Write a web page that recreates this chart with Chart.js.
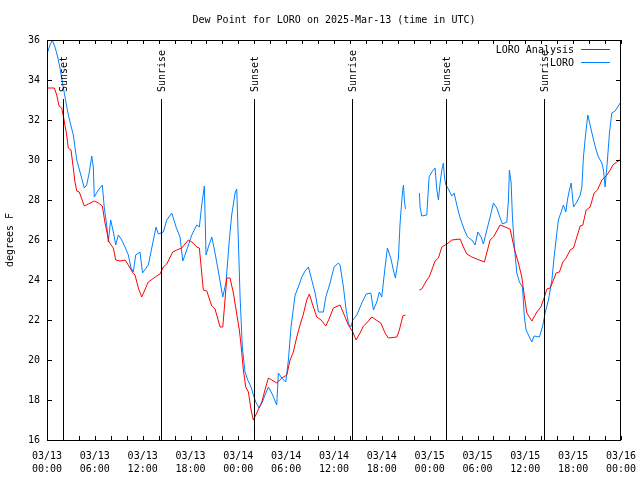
<!DOCTYPE html>
<html>
<head>
<meta charset="utf-8">
<script src="https://cdn.jsdelivr.net/npm/chart.js@4/dist/chart.umd.min.js"></script>
<style>
  html, body { margin: 0; padding: 0; background: #fff; }
  #wrap { width: 640px; height: 480px; }
</style>
</head>
<body>
<div id="wrap"><canvas id="dewCanvas"></canvas></div>
<script>
// hours since 2025-03-13 00:00 UTC, dew point in degrees F
const analysisHours = [0.0, 0.92, 1.22, 1.51, 1.84, 2.05, 2.47, 2.67, 3.01, 3.3, 3.51, 3.73, 4.05, 4.68, 5.18, 5.93, 6.44, 6.94, 7.28, 7.78,
    8.32, 8.62, 9.16, 9.79, 10.2, 10.7, 11.04, 11.46, 11.88, 12.71, 13.76, 14.18, 14.59, 15.02, 15.77, 16.27, 16.9, 17.73, 18.36, 18.78,
    19.11, 19.61, 20.04, 20.67, 21.08, 21.71, 22.05, 22.55, 22.96, 23.38, 23.8, 24.13, 24.34, 24.63, 24.93, 25.26, 25.6, 25.88, 26.31, 26.94,
    27.44, 27.77, 28.19, 28.82, 29.45, 30.08, 30.49, 30.9, 31.33, 31.74, 32.16, 32.58, 32.91, 33.29, 33.84, 34.38, 34.97, 35.38, 35.92, 36.76,
    37.39, 37.8, 38.36, 38.77, 39.27, 39.69, 40.11, 40.74, 41.28, 41.87, 42.41, 42.82, 43.88, 44.2, 44.63, 44.96, 45.8, 46.71, 47.01, 47.64,
    47.93, 48.27, 48.68, 49.1, 49.52, 50.15, 50.78, 51.82, 52.23, 52.66, 53.29, 53.91, 54.87, 55.58, 56.0, 56.84, 57.47, 58.09, 58.63, 59.13,
    59.56, 59.89, 60.19, 60.82, 61.44, 61.94, 62.36, 62.7, 63.11, 63.53, 63.86, 64.28, 64.71, 65.12, 65.62, 66.04, 66.46, 66.88, 67.21, 67.63,
    68.13, 68.63, 69.05, 69.6, 70.14, 70.64, 70.98, 71.48, 72.0];
const analysisDew = [33.6, 33.6, 33.25, 32.7, 32.6, 32.2, 31.25, 30.6, 30.5, 29.6, 28.9, 28.45, 28.4, 27.7, 27.8, 27.95, 27.85, 27.7, 26.85, 25.9,
    25.6, 25.0, 24.95, 25.0, 24.75, 24.4, 24.25, 23.6, 23.15, 23.9, 24.2, 24.3, 24.65, 24.8, 25.4, 25.5, 25.6, 26.0, 25.85, 25.65,
    25.6, 23.5, 23.45, 22.7, 22.55, 21.65, 21.65, 24.1, 24.1, 23.35, 22.3, 21.5, 20.75, 19.5, 18.65, 18.4, 17.5, 17.0, 17.35, 17.9,
    18.65, 19.1, 19.0, 18.85, 19.1, 19.25, 20.0, 20.4, 21.15, 21.75, 22.3, 23.0, 23.3, 22.8, 22.15, 22.0, 21.7, 22.05, 22.6, 22.75,
    22.15, 21.75, 21.4, 21.0, 21.35, 21.7, 21.85, 22.15, 22.0, 21.85, 21.35, 21.1, 21.15, 21.5, 22.2, 22.25, null, 23.5, 23.55, 24.0,
    24.15, 24.5, 24.95, 25.1, 25.65, 25.8, 26.0, 26.05, 25.65, 25.3, 25.15, 25.05, 24.9, 26.0, 26.15, 26.75, 26.65, 26.55, 25.55, 24.85,
    24.15, 23.15, 22.35, 21.95, 22.4, 22.65, 23.1, 23.55, 23.6, 24.0, 24.35, 24.4, 24.9, 25.1, 25.5, 25.6, 26.15, 26.7, 26.75, 27.5,
    27.65, 28.35, 28.5, 29.0, 29.2, 29.5, 29.75, 29.9, 30.05];

const obsHours = [0.0, 0.38, 0.66, 1.0, 1.34, 1.63, 1.92, 2.26, 2.6, 2.89, 3.3, 3.73, 4.14, 4.68, 4.98, 5.31, 5.61, 5.81, 5.93, 6.44,
    6.94, 7.19, 7.49, 7.69, 7.99, 8.32, 8.62, 8.95, 9.37, 9.79, 10.2, 10.54, 10.83, 11.13, 11.67, 11.98, 12.71, 13.14, 13.68, 13.96,
    14.59, 15.02, 15.65, 16.19, 16.69, 17.03, 17.53, 18.16, 18.78, 19.11, 19.41, 19.74, 19.95, 20.24, 20.67, 21.08, 21.62, 22.05, 22.46, 22.87,
    23.17, 23.59, 23.8, 23.96, 24.22, 24.5, 24.84, 25.18, 25.6, 25.88, 26.19, 26.6, 27.01, 27.35, 27.77, 28.19, 28.82, 29.02, 29.45, 29.95,
    30.28, 30.61, 31.12, 31.53, 31.96, 32.37, 32.79, 33.21, 33.63, 34.05, 34.67, 34.97, 35.51, 36.01, 36.55, 36.76, 37.18, 37.52, 37.8, 38.11,
    38.36, 38.86, 39.49, 40.03, 40.62, 40.95, 41.37, 41.69, 41.99, 42.41, 42.7, 43.12, 43.45, 43.7, 44.08, 44.29, 44.58, 44.71, 44.83, 44.96,
    45.8, 46.71, 46.8, 47.01, 47.64, 47.93, 48.27, 48.68, 48.9, 49.1, 49.31, 49.52, 49.72, 49.85, 50.03, 50.35, 50.78, 51.07, 51.4, 51.82,
    52.36, 52.74, 53.29, 53.7, 54.04, 54.45, 54.74, 55.17, 55.58, 56.0, 56.42, 56.84, 57.13, 57.68, 57.88, 58.0, 58.22, 58.38, 58.63, 58.93,
    59.26, 59.64, 59.89, 60.1, 60.51, 60.82, 61.1, 61.77, 62.2, 62.48, 62.9, 63.33, 63.61, 63.95, 64.15, 64.45, 64.78, 65.08, 65.28, 65.53,
    65.75, 66.04, 66.46, 66.88, 67.09, 67.29, 67.59, 67.84, 68.04, 68.47, 68.88, 69.17, 69.6, 69.8, 70.01, 70.14, 70.3, 70.55, 70.85, 71.27,
    71.9];
const obsDew = [35.3, 35.75, 36.0, 35.65, 35.15, 34.6, 33.9, 33.15, 32.4, 31.9, 31.25, 30.0, 29.4, 28.6, 28.75, 29.4, 30.2, 29.65, 28.15, 28.5,
    28.75, 27.6, 26.75, 25.9, 27.0, 26.4, 25.75, 26.25, 26.0, 25.65, 25.25, 24.6, 24.4, 25.25, 25.4, 24.35, 24.75, 25.6, 26.65, 26.3,
    26.4, 27.0, 27.35, 26.65, 26.15, 24.95, 25.5, 26.25, 26.75, 26.65, 27.75, 28.7, 25.25, 25.65, 26.15, 25.35, 24.15, 23.15, 23.9, 26.0,
    27.25, 28.35, 28.55, 26.5, 23.15, 20.65, 19.4, 19.0, 18.65, 18.25, 17.9, 17.6, 17.9, 18.25, 18.65, 18.35, 17.75, 19.35, 19.1, 18.9,
    20.0, 21.65, 23.25, 23.65, 24.15, 24.45, 24.65, 24.0, 23.35, 22.4, 22.4, 23.15, 23.85, 24.65, 24.85, 24.75, 23.65, 22.5, 21.85, 21.65,
    22.0, 22.25, 22.85, 23.3, 23.35, 22.5, 22.9, 23.4, 23.15, 24.65, 25.6, 25.1, 24.5, 24.1, 25.1, 26.85, 28.35, 28.75, 28.0, 27.55,
    null, 28.35, 27.65, 27.2, 27.25, 29.15, 29.4, 29.6, 28.5, 28.0, 28.85, 29.5, 29.85, 29.15, 28.75, 28.55, 28.2, 28.35, 27.75, 27.1,
    26.5, 26.15, 26.0, 25.75, 26.4, 26.15, 25.8, 26.5, 27.15, 27.85, 27.6, 27.1, 26.8, 26.9, 28.0, 29.5, 28.85, 27.15, 25.65, 24.35,
    23.9, 23.65, 22.1, 21.5, 21.15, 20.9, 21.2, 21.15, 21.75, 22.35, 23.0, 24.0, 25.15, 26.35, 27.0, 27.35, 27.75, 27.4, 28.0, 28.5,
    28.85, 27.65, 27.9, 28.25, 28.65, 30.15, 31.4, 32.25, 31.9, 31.15, 30.5, 30.15, 29.85, 29.5, 28.65, 29.25, 30.0, 31.35, 32.35, 32.45,
    32.85];

const sunHours = [2.0, 14.3, 26.0, 38.3, 50.05, 62.35];
const sunLabels = ["Sunset", "Sunrise", "Sunset", "Sunrise", "Sunset", "Sunrise"];

const yTicks = [16, 18, 20, 22, 24, 26, 28, 30, 32, 34, 36];

const FONT = "DejaVu Sans Mono";

function pairs(xs, ys) {
    return xs.map((h, i) => ({ x: h, y: ys[i] }));
}

function tickLabel(h) {
    if (h % 6 !== 0) return "";
    const day = 13 + Math.floor(h / 24);
    const hr = String(h % 24).padStart(2, "0");
    return ["03/" + day, hr + ":00"];
}

// frame, inward tick marks, sun lines, title and legend
const decorations = {
    id: "decorations",
    afterDatasetsDraw(chart) {
        const ctx = chart.ctx;
        const a = chart.chartArea;
        const xs = chart.scales.x;
        const ys = chart.scales.y;
        ctx.save();
        ctx.strokeStyle = "#000";
        ctx.lineWidth = 1;

        // sunrise / sunset markers
        ctx.font = "10px '" + FONT + "'";
        ctx.fillStyle = "#000";
        sunHours.forEach((h, i) => {
            const px = Math.round(xs.getPixelForValue(h)) + 0.5;
            const top = a.top + 59;
            ctx.beginPath();
            ctx.moveTo(px, top);
            ctx.lineTo(px, a.bottom);
            ctx.stroke();
            ctx.save();
            ctx.translate(px + 1, top - 7);
            ctx.rotate(-Math.PI / 2);
            ctx.textAlign = "left";
            ctx.textBaseline = "middle";
            ctx.fillText(sunLabels[i], 0, 0);
            ctx.restore();
        });

        // frame
        ctx.strokeRect(Math.round(a.left) + 0.5, Math.round(a.top) + 0.5,
            Math.round(a.right - a.left) - 1, Math.round(a.bottom - a.top));

        // tick marks pointing inside
        ctx.beginPath();
        xs.ticks.forEach(t => {
            const px = Math.round(xs.getPixelForValue(t.value)) + 0.5;
            ctx.moveTo(px, a.bottom);
            ctx.lineTo(px, a.bottom - 4);
            ctx.moveTo(px, a.top);
            ctx.lineTo(px, a.top + 4);
        });
        ys.ticks.forEach(t => {
            const py = Math.round(ys.getPixelForValue(t.value)) + 0.5;
            ctx.moveTo(a.left, py);
            ctx.lineTo(a.left + 5, py);
            ctx.moveTo(a.right, py);
            ctx.lineTo(a.right - 5, py);
        });
        ctx.stroke();

        // legend
        ctx.textAlign = "right";
        ctx.textBaseline = "middle";
        chart.data.datasets.forEach((ds, i) => {
            const y = a.top + 10 + i * 13;
            ctx.fillStyle = "#000";
            ctx.fillText(ds.label, a.right - 47, y);
            ctx.strokeStyle = ds.borderColor;
            ctx.beginPath();
            ctx.moveTo(a.right - 40, Math.round(y) - 0.5);
            ctx.lineTo(a.right - 11, Math.round(y) - 0.5);
            ctx.stroke();
        });

        // title
        ctx.fillStyle = "#000";
        ctx.textAlign = "center";
        ctx.fillText("Dew Point for LORO on 2025-Mar-13 (time in UTC)", (a.left + a.right) / 2, 20);
        ctx.restore();
    }
};

const dewChart = new Chart(document.getElementById("dewCanvas"), {
    type: "line",
    data: {
        datasets: [{
            label: "LORO Analysis",
            data: pairs(analysisHours, analysisDew),
            borderColor: "rgb(255, 0, 0)",
            borderWidth: 1,
            pointRadius: 0,
            spanGaps: false
        }, {
            label: "LORO",
            data: pairs(obsHours, obsDew),
            borderColor: "rgb(0, 128, 255)",
            borderWidth: 1,
            pointRadius: 0,
            spanGaps: false
        }]
    },
    options: {
        responsive: true,
        maintainAspectRatio: false,
        animation: false,
        layout: {
            padding: { top: 40, right: 19, left: 0, bottom: 0 }
        },
        plugins: {
            legend: { display: false },
            title: { display: false },
            tooltip: { enabled: false }
        },
        scales: {
            x: {
                type: "linear",
                min: 0,
                max: 72,
                afterFit: (scale) => {
                    scale.height = 40;
                    scale.paddingLeft = 0;
                    scale.paddingRight = 0;
                },
                grid: { display: false, drawTicks: false },
                border: { display: false },
                ticks: {
                    stepSize: 2,
                    autoSkip: false,
                    maxRotation: 0,
                    padding: 10,
                    color: "#000",
                    font: { family: FONT, size: 10, lineHeight: 1.3 },
                    callback: (v) => tickLabel(v)
                }
            },
            y: {
                min: 16,
                max: 36,
                afterFit: (scale) => {
                    scale.width = 47;
                    scale.paddingTop = 0;
                    scale.paddingBottom = 0;
                },
                afterBuildTicks: (scale) => { scale.ticks = yTicks.map(v => ({ value: v })); },
                grid: { display: false, drawTicks: false },
                border: { display: false },
                title: {
                    display: true,
                    text: "degrees F",
                    color: "#000",
                    font: { family: FONT, size: 10 },
                    padding: { top: 4, bottom: 4 }
                },
                ticks: {
                    padding: 7,
                    color: "#000",
                    font: { family: FONT, size: 10 }
                }
            }
        }
    },
    plugins: [decorations]
});
</script>
</body>
</html>
